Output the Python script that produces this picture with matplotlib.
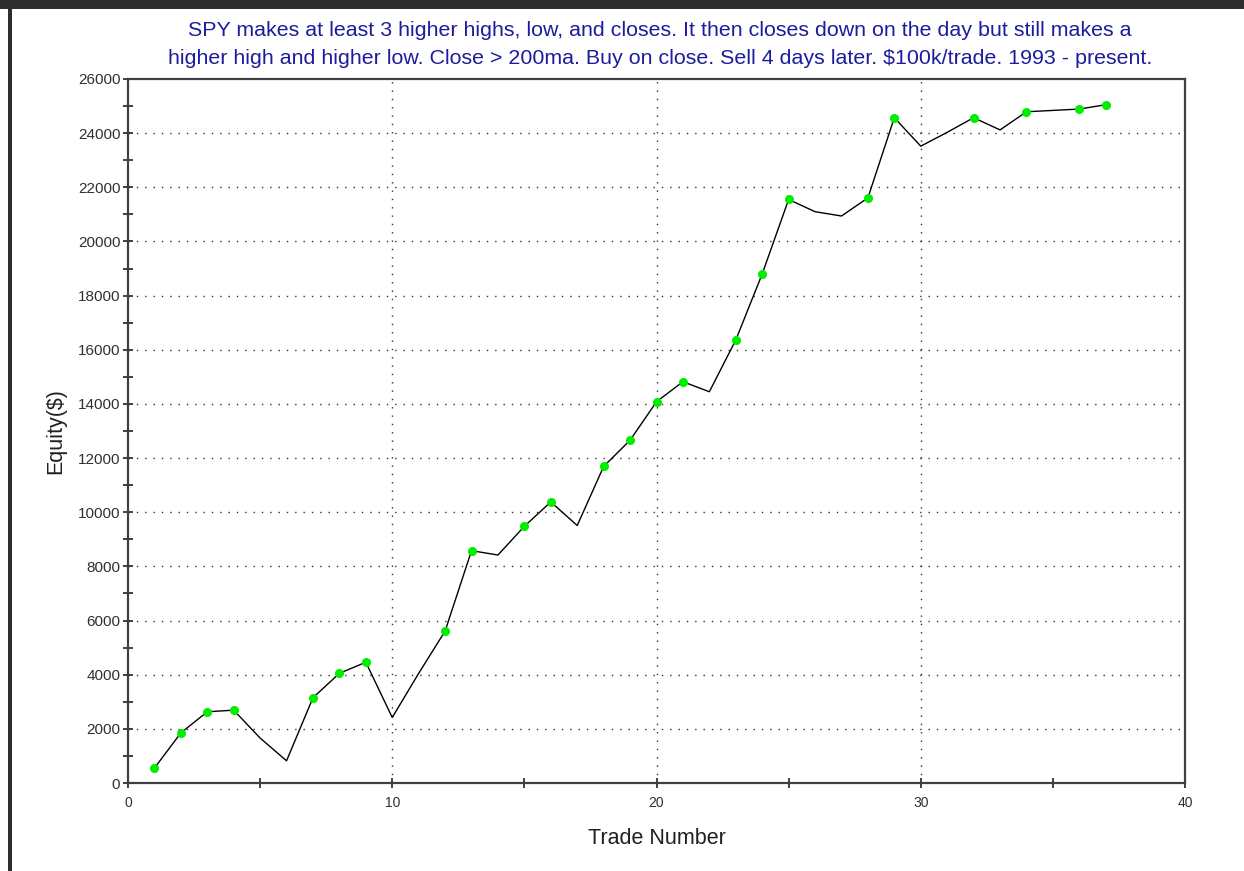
import matplotlib
matplotlib.use("Agg")
import matplotlib.pyplot as plt
from matplotlib.patches import Rectangle

trades = list(range(1, 38))
equity = [550, 1850, 2630, 2690, 1660, 820, 3150, 4050, 4460, 2420,
          4050, 5610, 8580, 8420, 9480, 10380, 9510, 11690, 12660, 14080,
          14820, 14450, 16360, 18800, 21550, 21100, 20940, 21610, 24570, 23520,
          24030, 24570, 24120, 24790, 24840, 24890, 25050]
marker_trades = [1, 2, 3, 4, 7, 8, 9, 12, 13, 15, 16, 18, 19, 20, 21, 23, 24,
                 25, 28, 29, 32, 34, 36, 37]
x_ticks = [0, 10, 20, 30, 40]
y_ticks = list(range(0, 26001, 2000))

title = ("SPY makes at least 3 higher highs, low, and closes. It then closes down on the day but still makes a\n"
         "higher high and higher low. Close > 200ma. Buy on close. Sell 4 days later. $100k/trade. 1993 - present.")

plt.rcParams['font.family'] = ['Liberation Sans', 'DejaVu Sans']

fig = plt.figure(figsize=(12.44, 8.71), dpi=100)
W, H = 1244, 871
# window frame
fig.patches.append(Rectangle((0, 1 - 9 / H), 1, 9 / H, transform=fig.transFigure,
                             facecolor='#2e2e2e', edgecolor='none', zorder=0))
fig.patches.append(Rectangle((8 / W, 0), 4 / W, 1, transform=fig.transFigure,
                             facecolor='#2e2e2e', edgecolor='none', zorder=0))

ax = fig.add_axes([128 / W, 1 - 783 / H, (1185 - 128) / W, (783 - 79) / H])

ax.plot(trades, equity, color='black', linewidth=1.0, zorder=3)
mx = [t for t in marker_trades]
my = [equity[t - 1] for t in marker_trades]
ax.plot(mx, my, linestyle='none', marker='o', markersize=5.5,
        markerfacecolor='#00ee00', markeredgecolor='#00ee00', zorder=4)

ax.set_xlim(0, 40)
ax.set_ylim(0, 26000)
ax.set_xticks(x_ticks)
ax.set_xticks(list(range(0, 41, 5)), minor=True)
ax.set_yticks(y_ticks)
ax.set_yticks(list(range(0, 26001, 1000)), minor=True)
ax.tick_params(axis='both', which='both', direction='inout', color='#303030', width=1.3)
ax.tick_params(axis='both', which='major', length=7, labelcolor='#303030')
ax.tick_params(axis='y', which='major', labelsize=11, pad=2)
ax.tick_params(axis='x', which='major', labelsize=10, pad=6)
ax.tick_params(axis='both', which='minor', length=7)

# grid: horizontal at every major y tick, vertical at 10,20,30
for yv in y_ticks[1:-1]:
    ax.axhline(yv, color='#333333', linewidth=1.0, linestyle=(0, (1, 5)), zorder=1)
for xv in x_ticks[1:-1]:
    ax.axvline(xv, color='#333333', linewidth=1.0, linestyle=(0, (1, 5)), zorder=1)

for s in ax.spines.values():
    s.set_color('#404040')
    s.set_linewidth(1.6)

ax.set_xlabel('Trade Number', fontsize=15.5, color='#202020', labelpad=13)
ax.set_ylabel('Equity($)', fontsize=15.5, color='#202020', labelpad=8)

fig.text(660 / W, 1 - 44.5 / H, title, ha='center', va='center', fontsize=15.4,
         color='#1c1c9c', linespacing=1.55)

fig.savefig('out.png', dpi=100)
